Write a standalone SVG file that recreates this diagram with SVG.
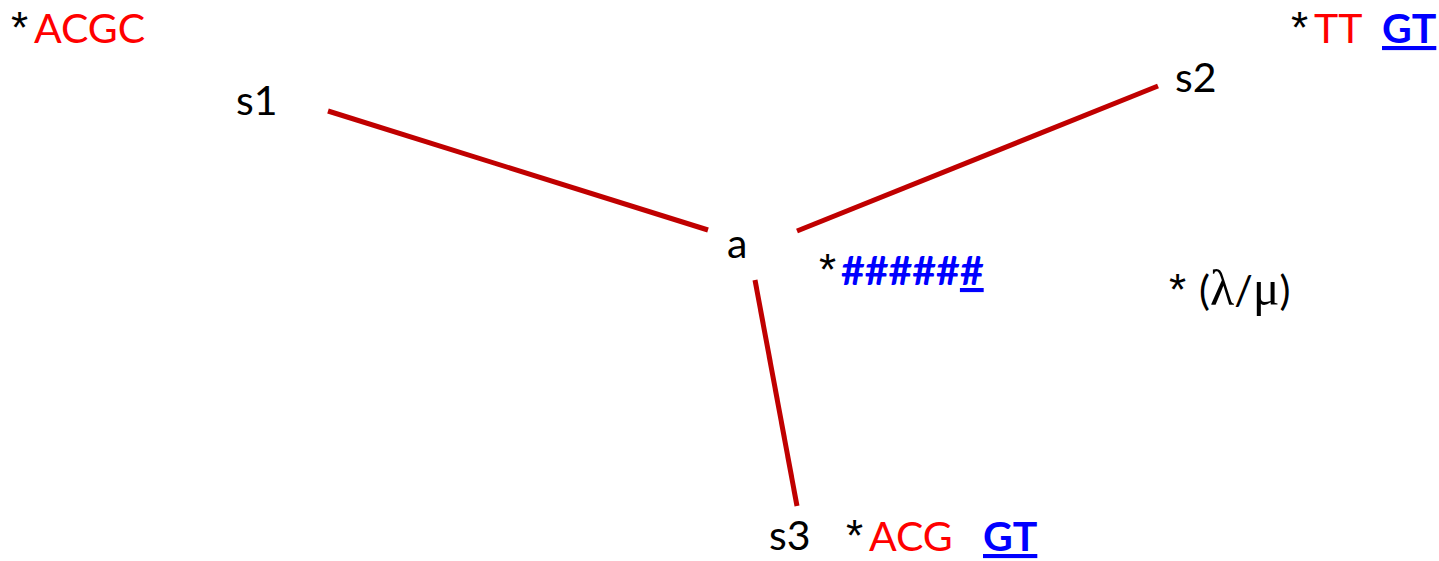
<svg xmlns="http://www.w3.org/2000/svg" width="1439" height="561" viewBox="0 0 1439 561">
<style>
text{font-family:Lato,"Open Sans","Liberation Sans",sans-serif;font-size:41px;fill:#000}
.s{font-family:"Liberation Sans",Arial,sans-serif;font-size:44px}
.r{fill:#FF0000}
.b{fill:#0000FF;font-weight:bold}
.bb{fill:#0000FF;font-weight:bold;text-decoration:underline}
.g{font-family:"Liberation Serif","DejaVu Serif",serif;font-size:50px}
.e{stroke:#C00000;stroke-width:5;fill:none}
</style>
<rect width="1439" height="561" fill="#fff"/>
<g id="connectors">
<line class="e" x1="328" y1="111" x2="708" y2="230"/>
<line class="e" x1="797" y1="231" x2="1158" y2="86"/>
<line class="e" x1="755" y1="280" x2="797" y2="506"/>
</g>
<g id="s1"><text x="236" y="115">s1</text></g>
<g id="s2"><text x="1175" y="92">s2</text></g>
<g id="s3"><text x="769" y="550">s3</text></g>
<g id="a"><text x="727" y="258">a</text></g>
<g id="label-s1"><text class="s" x="11" y="43">*</text><text class="r" x="34" y="43">ACGC</text></g>
<g id="label-s2"><text class="s" x="1291" y="43">*</text><text class="r" x="1314" y="43">TT</text><text class="bb" x="1382" y="43">GT</text></g>
<g id="label-a"><text class="s" x="819" y="285">*</text><text class="b" x="841" y="285">#####<tspan class="bb">#</tspan></text></g>
<g id="label-rate"><text class="s" x="1169" y="305">*</text><text x="1199" y="305" font-size="43">(<tspan class="g">λ</tspan>/<tspan class="g">μ</tspan>)</text></g>
<g id="label-s3"><text class="s" x="846" y="551">*</text><text class="r" x="869" y="551">ACG</text><text class="bb" x="983" y="551">GT</text></g>
</svg>
